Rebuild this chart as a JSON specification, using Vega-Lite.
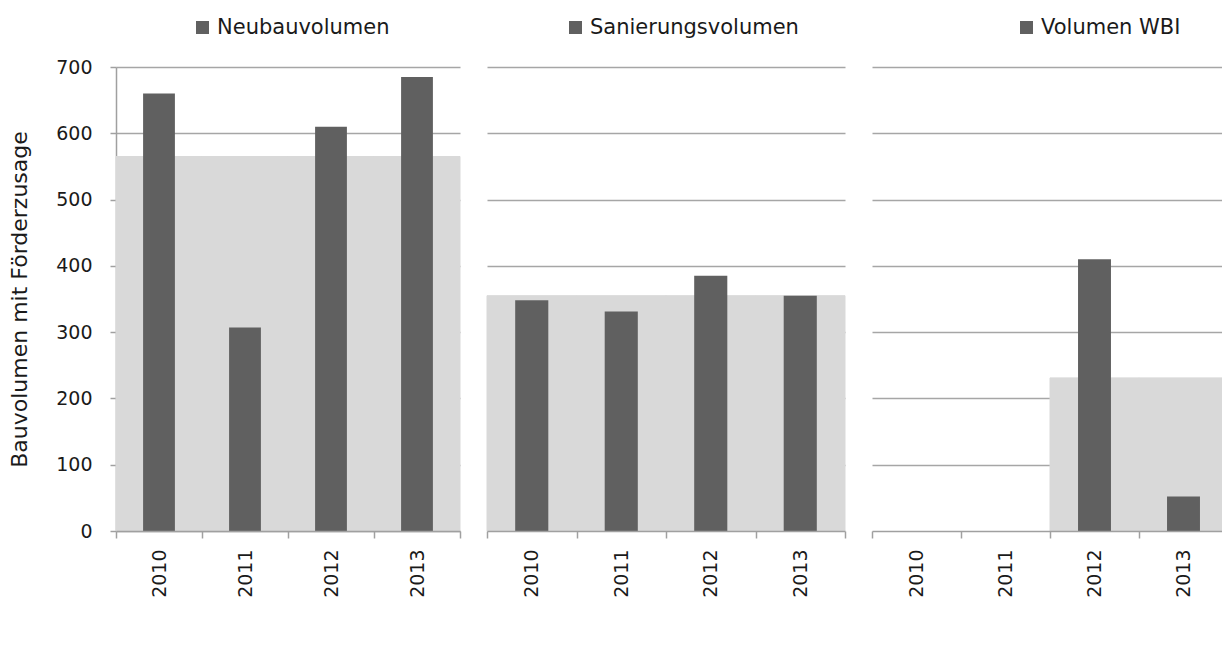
{
  "$schema": "https://vega.github.io/schema/vega-lite/v6.json",
  "padding": {"top": 17, "left": 8, "right": 0, "bottom": 0},
  "background": "white",
  "config": {
    "view": {"stroke": null},
    "font": "DejaVu Sans",
    "axis": {
      "labelFont": "DejaVu Sans", "labelFontSize": 19, "labelColor": "#1a1a1a",
      "titleFont": "DejaVu Sans", "titleFontSize": 22, "titleFontWeight": "normal", "titleColor": "#1a1a1a",
      "domainColor": "#a0a0a0", "domainWidth": 1.5, "tickColor": "#a0a0a0", "tickWidth": 1.5,
      "gridColor": "#a6a6a6", "gridWidth": 1.5
    },
    "legend": {"labelFont": "DejaVu Sans", "labelFontSize": 21, "labelColor": "#1a1a1a", "padding": 0, "labelLimit": 0}
  },
  "datasets": {
    "bars": [
      {"panel": "Neubauvolumen", "year": "2010", "value": 660},
      {"panel": "Neubauvolumen", "year": "2011", "value": 307},
      {"panel": "Neubauvolumen", "year": "2012", "value": 610},
      {"panel": "Neubauvolumen", "year": "2013", "value": 685},
      {"panel": "Sanierungsvolumen", "year": "2010", "value": 348},
      {"panel": "Sanierungsvolumen", "year": "2011", "value": 331},
      {"panel": "Sanierungsvolumen", "year": "2012", "value": 385},
      {"panel": "Sanierungsvolumen", "year": "2013", "value": 355},
      {"panel": "Volumen WBI", "year": "2010", "value": 0},
      {"panel": "Volumen WBI", "year": "2011", "value": 0},
      {"panel": "Volumen WBI", "year": "2012", "value": 410},
      {"panel": "Volumen WBI", "year": "2013", "value": 52}
    ],
    "avg": [
      {"panel": "Neubauvolumen", "year": "2010", "value": 565},
      {"panel": "Neubauvolumen", "year": "2011", "value": 565},
      {"panel": "Neubauvolumen", "year": "2012", "value": 565},
      {"panel": "Neubauvolumen", "year": "2013", "value": 565},
      {"panel": "Sanierungsvolumen", "year": "2010", "value": 355},
      {"panel": "Sanierungsvolumen", "year": "2011", "value": 355},
      {"panel": "Sanierungsvolumen", "year": "2012", "value": 355},
      {"panel": "Sanierungsvolumen", "year": "2013", "value": 355},
      {"panel": "Volumen WBI", "year": "2012", "value": 231},
      {"panel": "Volumen WBI", "year": "2013", "value": 231}
    ]
  },
  "spacing": 17,
  "resolve": {"scale": {"color": "independent", "y": "independent", "x": "independent"}, "legend": {"color": "independent"}},
  "hconcat": [
    {
      "width": 344, "height": 464,
      "encoding": {
        "x": {"field": "year", "type": "ordinal", "scale": {"domain": ["2010", "2011", "2012", "2013"], "paddingInner": 0, "paddingOuter": 0},
              "axis": {"title": null, "labelAngle": -90, "tickBand": "extent", "tickSize": 7, "labelPadding": 11, "zindex": 1}},
        "y": {"field": "value", "type": "quantitative", "scale": {"domain": [0, 700]},
              "axis": {"title": "Bauvolumen mit Förderzusage", "values": [0, 100, 200, 300, 400, 500, 600, 700], "tickSize": 6, "labelPadding": 18, "titlePadding": 24, "grid": true}}
      },
      "layer": [
        {"data": {"name": "avg"}, "transform": [{"filter": "datum.panel == 'Neubauvolumen'"}],
         "mark": {"type": "bar", "color": "#d9d9d9", "stroke": "#d9d9d9", "strokeWidth": 1, "width": {"band": 1}}},
        {"data": {"name": "bars"}, "transform": [{"filter": "datum.panel == 'Neubauvolumen'"}],
         "mark": {"type": "bar", "width": {"band": 0.37}},
         "encoding": {"color": {"field": "panel", "type": "nominal", "scale": {"range": ["#606060"]},
           "legend": {"title": null, "orient": "none", "legendX": 76, "legendY": -50, "symbolType": "square", "symbolSize": 169, "symbolStrokeWidth": 0, "labelOffset": 4}}}}
      ]
    },
    {
      "width": 358, "height": 464,
      "encoding": {
        "x": {"field": "year", "type": "ordinal", "scale": {"domain": ["2010", "2011", "2012", "2013"], "paddingInner": 0, "paddingOuter": 0},
              "axis": {"title": null, "labelAngle": -90, "tickBand": "extent", "tickSize": 7, "labelPadding": 11, "zindex": 1}},
        "y": {"field": "value", "type": "quantitative", "scale": {"domain": [0, 700]},
              "axis": {"title": null, "values": [100, 200, 300, 400, 500, 600, 700], "labels": false, "ticks": false, "domain": false, "grid": true, "minExtent": 0, "maxExtent": 0}}
      },
      "layer": [
        {"data": {"name": "avg"}, "transform": [{"filter": "datum.panel == 'Sanierungsvolumen'"}],
         "mark": {"type": "bar", "color": "#d9d9d9", "stroke": "#d9d9d9", "strokeWidth": 1, "width": {"band": 1}}},
        {"data": {"name": "bars"}, "transform": [{"filter": "datum.panel == 'Sanierungsvolumen'"}],
         "mark": {"type": "bar", "width": {"band": 0.37}},
         "encoding": {"color": {"field": "panel", "type": "nominal", "scale": {"range": ["#606060"]},
           "legend": {"title": null, "orient": "none", "legendX": 78, "legendY": -50, "symbolType": "square", "symbolSize": 169, "symbolStrokeWidth": 0, "labelOffset": 4}}}}
      ]
    },
    {
      "width": 356, "height": 464,
      "encoding": {
        "x": {"field": "year", "type": "ordinal", "scale": {"domain": ["2010", "2011", "2012", "2013"], "paddingInner": 0, "paddingOuter": 0},
              "axis": {"title": null, "labelAngle": -90, "tickBand": "extent", "tickSize": 7, "labelPadding": 11, "zindex": 1}},
        "y": {"field": "value", "type": "quantitative", "scale": {"domain": [0, 700]},
              "axis": {"title": null, "values": [100, 200, 300, 400, 500, 600, 700], "labels": false, "ticks": false, "domain": false, "grid": true, "minExtent": 0, "maxExtent": 0}}
      },
      "layer": [
        {"data": {"name": "avg"}, "transform": [{"filter": "datum.panel == 'Volumen WBI'"}],
         "mark": {"type": "bar", "color": "#d9d9d9", "stroke": "#d9d9d9", "strokeWidth": 1, "width": {"band": 1}}},
        {"data": {"name": "bars"}, "transform": [{"filter": "datum.panel == 'Volumen WBI'"}],
         "mark": {"type": "bar", "width": {"band": 0.37}},
         "encoding": {"color": {"field": "panel", "type": "nominal", "scale": {"range": ["#606060"]},
           "legend": {"title": null, "orient": "none", "legendX": 144, "legendY": -50, "symbolType": "square", "symbolSize": 169, "symbolStrokeWidth": 0, "labelOffset": 4}}}}
      ]
    }
  ]
}
